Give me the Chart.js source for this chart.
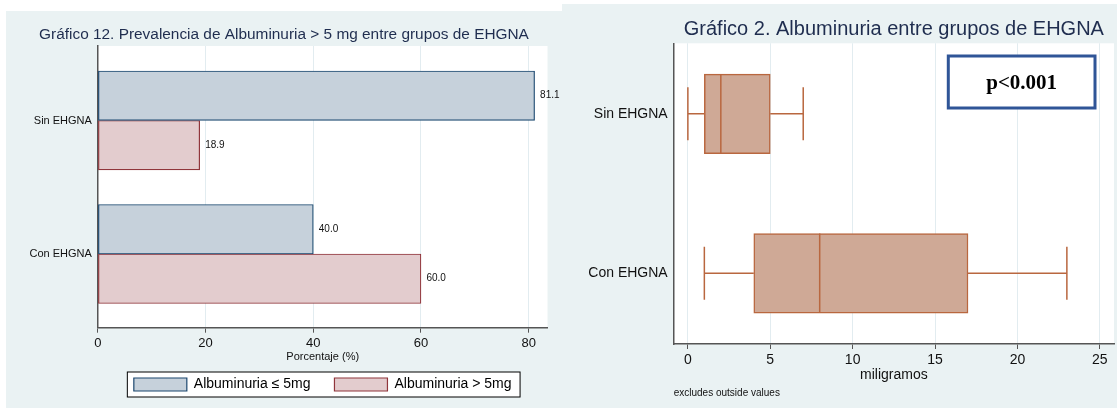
<!DOCTYPE html>
<html>
<head>
<meta charset="utf-8">
<script src="https://cdn.jsdelivr.net/npm/chart.js@4.4.0/dist/chart.umd.min.js"></script>
<style>
body { margin: 0; background: #fff; width: 1117px; height: 408px; overflow: hidden; position: relative; }
.panel { position: absolute; background: #eaf2f3; }
#p1 { left: 6px; top: 11px; width: 556px; height: 397px; }
#p2 { left: 562px; top: 4px; width: 555px; height: 404px; }
canvas { display: block; }
</style>
</head>
<body>
<div class="panel" id="p1"><canvas id="c1" width="556" height="397"></canvas></div>
<div class="panel" id="p2"><canvas id="c2" width="555" height="404"></canvas></div>
<script>
// data
const groups = ['Sin EHGNA', 'Con EHGNA'];
const seriesNames = ['Albuminuria ≤ 5mg', 'Albuminuria > 5mg'];
const albLow = [81.1, 40.0];   // % albuminuria <= 5mg
const albHigh = [18.9, 60.0];  // % albuminuria > 5mg

// box plot, miligramos
const mgMin = [0, 1];
const mgQ1 = [1, 4];
const mgMedian = [2, 8];
const mgQ3 = [5, 17];
const mgMax = [7, 23];

Chart.defaults.font.family = "'Liberation Sans', Arial, sans-serif";
Chart.defaults.color = '#111';

const axisGray = '#555';
const gridBlue = '#e2ecf0';

// stata leaves a bigger gap at the ends than between groups
function catSpread(start, range) {
    return scale => { scale._startValue = start; scale._valueRange = range; };
}

// white plot region
const plotBg = {
    id: 'plotBg',
    beforeDraw(chart) {
        const { ctx, chartArea: { left, top, width, height } } = chart;
        ctx.save();
        ctx.fillStyle = '#fff';
        ctx.fillRect(left, top, width, height);
        ctx.restore();
    }
};

// title centred on the whole graph, not the padded box
const titleFull = {
    id: 'titleFull',
    afterLayout(chart) {
        chart.titleBlock.left = 0;
        chart.titleBlock.right = chart.width;
    }
};

// value labels right of the bars
const barValues = {
    id: 'barValues',
    afterDatasetsDraw(chart) {
        const ctx = chart.ctx;
        ctx.save();
        ctx.font = "10px 'Liberation Sans', Arial, sans-serif";
        ctx.fillStyle = '#111';
        ctx.textBaseline = 'middle';
        chart.data.datasets.forEach((ds, d) => {
            chart.getDatasetMeta(d).data.forEach((bar, i) => {
                ctx.fillText(ds.data[i].toFixed(1), bar.x + 5.5, bar.y);
            });
        });
        ctx.restore();
    }
};

// framed white legend like stata
const legendFrame = {
    id: 'legendFrame',
    beforeDraw(chart) {
        const boxes = chart.legend && chart.legend.legendHitBoxes;
        if (!boxes || !boxes.length) return;
        let l = Infinity, r = -Infinity, t = Infinity, b = -Infinity;
        boxes.forEach(h => {
            l = Math.min(l, h.left); r = Math.max(r, h.left + h.width);
            t = Math.min(t, h.top); b = Math.max(b, h.top + h.height);
        });
        const ctx = chart.ctx;
        ctx.save();
        ctx.fillStyle = '#fff';
        ctx.strokeStyle = '#000';
        ctx.lineWidth = 1;
        ctx.fillRect(l - 6.5, t - 5.5, r - l + 15, b - t + 11);
        ctx.strokeRect(l - 6.5, t - 5.5, r - l + 15, b - t + 11);
        ctx.restore();
    }
};

// whiskers and medians on top of the floating bars
const whiskers = {
    id: 'whiskers',
    afterDatasetsDraw(chart) {
        const { ctx, scales: { x } } = chart;
        ctx.save();
        ctx.strokeStyle = '#b9673f';
        ctx.lineWidth = 1.5;
        chart.getDatasetMeta(0).data.forEach((bar, i) => {
            const y = bar.y, h = bar.height;
            ctx.beginPath();
            ctx.moveTo(x.getPixelForValue(mgMin[i]), y);
            ctx.lineTo(x.getPixelForValue(mgQ1[i]), y);
            ctx.moveTo(x.getPixelForValue(mgQ3[i]), y);
            ctx.lineTo(x.getPixelForValue(mgMax[i]), y);
            [mgMin[i], mgMax[i]].forEach(v => {
                ctx.moveTo(x.getPixelForValue(v), y - h / 3);
                ctx.lineTo(x.getPixelForValue(v), y + h / 3);
            });
            ctx.moveTo(x.getPixelForValue(mgMedian[i]), y - h / 2);
            ctx.lineTo(x.getPixelForValue(mgMedian[i]), y + h / 2);
            ctx.stroke();
        });
        ctx.restore();
    }
};

const pValueBox = {
    id: 'pValueBox',
    afterDraw(chart) {
        const { ctx, chartArea: { right, top } } = chart;
        const bx = right - 165.7, by = top + 12.7, bw = 146.7, bh = 52;
        ctx.save();
        ctx.fillStyle = '#fff';
        ctx.fillRect(bx, by, bw, bh);
        ctx.strokeStyle = '#2f5597';
        ctx.lineWidth = 3;
        ctx.strokeRect(bx, by, bw, bh);
        ctx.fillStyle = '#000';
        ctx.font = "bold 21px 'Liberation Serif', 'Times New Roman', serif";
        ctx.textAlign = 'center';
        ctx.textBaseline = 'middle';
        ctx.fillText('p<0.001', bx + bw / 2, by + bh / 2 + 1.5);
        ctx.restore();
    }
};

// Gráfico 12 - bars
new Chart(document.getElementById('c1'), {
    type: 'bar',
    data: {
        labels: groups,
        datasets: [
            { label: seriesNames[0], data: albLow, backgroundColor: '#c6d1db', borderColor: '#1a476f', borderWidth: 1.2, borderSkipped: false },
            { label: seriesNames[1], data: albHigh, backgroundColor: '#e3ccce', borderColor: '#90353b', borderWidth: 1.2, borderSkipped: false }
        ]
    },
    options: {
        indexAxis: 'y',
        responsive: false,
        animation: false,
        barThickness: 49.5,
        layout: { padding: { left: 0, right: 14.5, top: 0, bottom: 6.5 } },
        scales: {
            x: {
                min: 0, max: 83.5,
                ticks: { stepSize: 20, includeBounds: false, font: { size: 13 }, padding: 3 },
                grid: { color: gridBlue, tickColor: axisGray, tickLength: 5 },
                border: { color: axisGray, width: 1.5 },
                title: { display: true, text: 'Porcentaje (%)', font: { size: 11 }, padding: { top: 0, bottom: -10.5 } },
                afterFit: s => { s.height = 25.8; }
            },
            y: {
                ticks: { font: { size: 11 }, padding: 6 },
                grid: { display: false, drawTicks: false },
                border: { color: axisGray, width: 1.5 },
                afterBuildTicks: catSpread(-0.558, 2.11),
                afterFit: s => { s.width = 91.9; }
            }
        },
        plugins: {
            title: {
                display: true,
                text: 'Gráfico 12. Prevalencia de Albuminuria > 5 mg entre grupos de EHGNA',
                font: { size: 15.4, weight: 'normal' }, color: '#1f2d4f',
                padding: { top: 14.75, bottom: 1.75 }
            },
            legend: {
                position: 'bottom', fullSize: false,
                labels: { boxWidth: 53, boxHeight: 13, padding: 24, font: { size: 14 }, color: '#000' }
            },
            tooltip: { enabled: false }
        }
    },
    plugins: [plotBg, titleFull, legendFrame, barValues]
});

// Gráfico 2 - box plot
new Chart(document.getElementById('c2'), {
    type: 'bar',
    data: {
        labels: groups,
        datasets: [{
            label: 'miligramos',
            data: groups.map((g, i) => [mgQ1[i], mgQ3[i]]),
            backgroundColor: '#cfa996', borderColor: '#b9673f', borderWidth: 1.5, borderSkipped: false
        }]
    },
    options: {
        indexAxis: 'y',
        responsive: false,
        animation: false,
        barThickness: 79.5,
        layout: { padding: { left: 0, right: 3, top: 0, bottom: 0 } },
        scales: {
            x: {
                min: -0.86, max: 25.86,
                ticks: { stepSize: 5, includeBounds: false, font: { size: 14 }, padding: 3 },
                grid: { color: gridBlue, tickColor: axisGray, tickLength: 5 },
                border: { color: axisGray, width: 1.5 },
                title: { display: true, text: 'miligramos', font: { size: 14 }, padding: { top: 0, bottom: 3.6 } },
                afterFit: s => { s.height = 43; }
            },
            y: {
                ticks: { font: { size: 14 }, padding: 6 },
                grid: { display: false, drawTicks: false },
                border: { color: axisGray, width: 1.5 },
                afterBuildTicks: catSpread(-0.4421, 1.8854),
                afterFit: s => { s.width = 111.7; }
            }
        },
        plugins: {
            title: {
                display: true, fullSize: false,
                text: 'Gráfico 2. Albuminuria entre grupos de EHGNA',
                font: { size: 20, weight: 'normal' }, color: '#1f2d4f',
                padding: { top: 13, bottom: 2.3 }
            },
            subtitle: {
                display: true, position: 'bottom', fullSize: false, align: 'start',
                text: 'excludes outside values',
                font: { size: 10 }, color: '#111',
                padding: { top: 0, bottom: 9 }
            },
            legend: { display: false },
            tooltip: { enabled: false }
        }
    },
    plugins: [plotBg, whiskers, pValueBox]
});
</script>
</body>
</html>
